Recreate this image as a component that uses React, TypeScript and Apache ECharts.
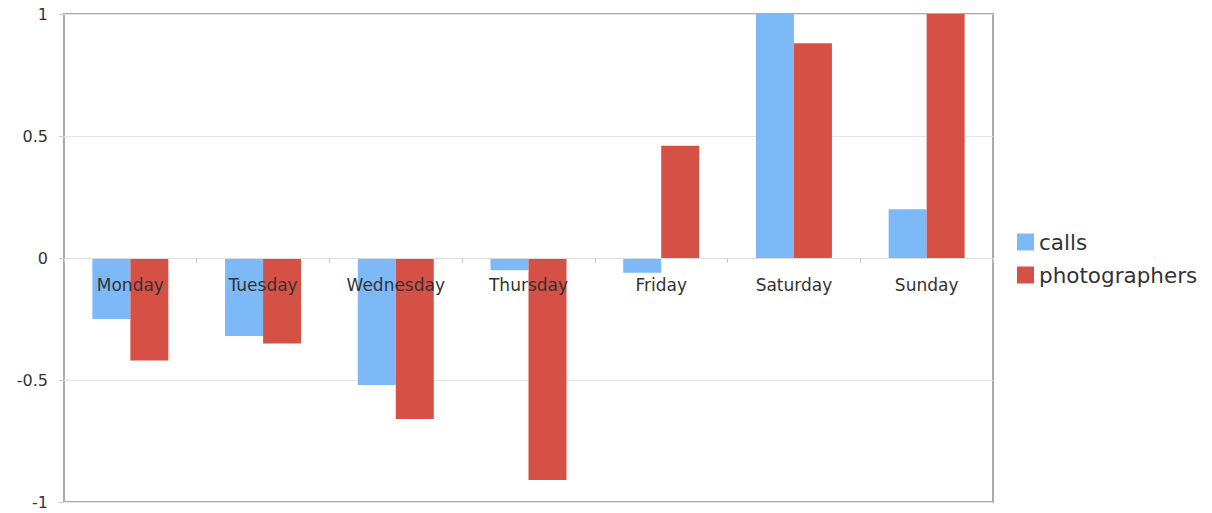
import React, { useEffect, useRef } from "react";
import * as echarts from "echarts";

const categories = ["Monday", "Tuesday", "Wednesday", "Thursday", "Friday", "Saturday", "Sunday"];
const callsValues = [-0.25, -0.32, -0.52, -0.05, -0.06, 1.0, 0.2];
const photographersValues = [-0.42, -0.35, -0.66, -0.91, 0.46, 0.88, 1.0];
const yTicks = { min: -1, max: 1, interval: 0.5 };

export default function App() {
  const ref = useRef<HTMLDivElement>(null);
  useEffect(() => {
    if (!ref.current) return;
    const chart = echarts.init(ref.current, null, { renderer: "svg" });
    const font = "DejaVu Sans";
    chart.setOption({
      animation: false,
      textStyle: { fontFamily: font },
      grid: {
        left: 64,
        right: 219,
        top: 14,
        bottom: 11,
        outerBoundsMode: "none",
        containLabel: false,
        show: true,
        borderColor: "#aaaaaa",
        borderWidth: 2,
        backgroundColor: "transparent",
      },
      legend: {
        orient: "vertical",
        left: 1017,
        top: 231,
        padding: 0,
        itemWidth: 17,
        itemHeight: 17,
        itemGap: 11,
        icon: "rect",
        textStyle: { fontFamily: font, fontSize: 21.5, color: "#333" },
        data: ["calls", "photographers"],
      },
      xAxis: {
        type: "category",
        data: categories,
        axisLine: { onZero: true, lineStyle: { color: "#dddddd", width: 1 } },
        axisTick: { show: true, length: 5, lineStyle: { color: "#cccccc" } },
        axisLabel: { fontFamily: font, fontSize: 17, color: "#333", margin: -226 },
        splitLine: { show: false },
        z: 10,
      },
      yAxis: {
        type: "value",
        min: yTicks.min,
        max: yTicks.max,
        interval: yTicks.interval,
        axisLine: { show: false },
        axisTick: { show: true, length: 5, lineStyle: { color: "#cccccc" } },
        axisLabel: {
          fontFamily: font,
          fontSize: 16,
          color: "#333",
          margin: 16,
          formatter: (v: number) => String(v),
        },
        splitLine: { show: true, lineStyle: { color: "#e4e4e4", width: 1 } },
      },
      series: [
        {
          name: "calls",
          type: "bar",
          data: callsValues,
          barWidth: 38,
          barGap: "0%",
          itemStyle: { color: "#7db9f7" },
        },
        {
          name: "photographers",
          type: "bar",
          data: photographersValues,
          barWidth: 38,
          barGap: "0%",
          itemStyle: { color: "#d55045" },
        },
      ],
    });
    return () => chart.dispose();
  }, []);
  return (
    <div
      ref={ref}
      style={{ position: "absolute", left: 0, top: 0, width: 1212, height: 513 }}
    />
  );
}
